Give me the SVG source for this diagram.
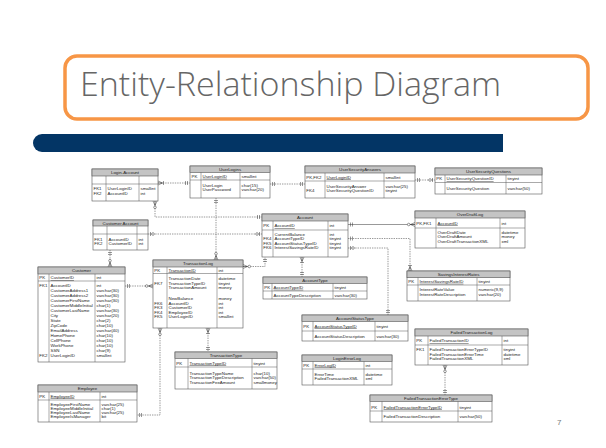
<svg xmlns="http://www.w3.org/2000/svg" width="606" height="448" viewBox="0 0 606 448">
<style>
.t{font-family:"Liberation Sans",Arial,sans-serif;font-size:4.4px;fill:#222}
.h{text-anchor:middle}
.u{text-decoration:underline}
.box{fill:#fff;stroke:#555;stroke-width:.6}
.hd{fill:#c4c4c4;stroke:#555;stroke-width:.6}
.ln{fill:none;stroke:#555;stroke-width:.5}
.c{fill:none;stroke:#444;stroke-width:.55;stroke-dasharray:1.4 1}
.s{fill:none;stroke:#444;stroke-width:.55}
.m{fill:none;stroke:#333;stroke-width:.5;stroke-dasharray:none}
.mc{fill:#fff;stroke:#333;stroke-width:.5;stroke-dasharray:none}
</style>
<defs>
<marker id="one" markerUnits="userSpaceOnUse" markerWidth="12" markerHeight="12" refX="0" refY="0" orient="auto-start-reverse" overflow="visible"><path class="m" d="M-2.5,-2V2M-4.5,-2V2"/></marker>
<marker id="many" markerUnits="userSpaceOnUse" markerWidth="12" markerHeight="12" refX="0" refY="0" orient="auto-start-reverse" overflow="visible"><path class="m" d="M-4.5,0L0,-2M-4.5,0H0M-4.5,0L0,2M-5.5,-2V2"/></marker>
<marker id="manyOpt" markerUnits="userSpaceOnUse" markerWidth="12" markerHeight="12" refX="0" refY="0" orient="auto-start-reverse" overflow="visible"><path class="m" d="M-4.5,0L0,-2M-4.5,0H0M-4.5,0L0,2"/><circle class="mc" cx="-6.3" cy="0" r="1.3"/></marker>
<marker id="oneOpt" markerUnits="userSpaceOnUse" markerWidth="12" markerHeight="12" refX="0" refY="0" orient="auto-start-reverse" overflow="visible"><path class="m" d="M-2.5,-2V2"/><circle class="mc" cx="-5" cy="0" r="1.3"/></marker>
</defs>
<rect width="606" height="448" fill="#fff"/>

<g id="title">
<rect x="65" y="56" width="523" height="63" rx="12" fill="#fff" stroke="#F79646" stroke-width="3.5"/>
<text x="80" y="96" font-family="Open Sans, Liberation Sans, Arial, sans-serif" font-weight="300" font-size="33" fill="#666" textLength="421" lengthAdjust="spacingAndGlyphs">Entity-Relationship Diagram</text>
</g>
<path id="bar" d="M42,134H503V152H42A9,9 0 0 1 42,134Z" fill="#033565"/>
<text id="page" x="557" y="425" font-family="Liberation Sans, Arial, sans-serif" font-size="8" fill="#777">7</text>

<g id="connectors">
<path class="c" d="M158,183H190" marker-start="url(#many)" marker-end="url(#one)"/>
<path class="c" d="M155,201V217H262" marker-start="url(#manyOpt)" marker-end="url(#one)"/>
<path class="c" d="M216,198V260" marker-start="url(#one)" marker-end="url(#manyOpt)"/>
<path class="c" d="M270,184H305" marker-start="url(#one)" marker-end="url(#one)"/>
<path class="c" d="M415,180H435" marker-start="url(#one)" marker-end="url(#oneOpt)"/>
<path class="c" d="M148,234H262" marker-start="url(#oneOpt)" marker-end="url(#oneOpt)"/>
<path class="c" d="M110,250V267" marker-start="url(#one)" marker-end="url(#manyOpt)"/>
<path class="c" d="M125,286H153" marker-start="url(#one)" marker-end="url(#manyOpt)"/>
<path class="c" d="M243,266.5H265V257" marker-start="url(#manyOpt)" marker-end="url(#one)"/>
<path class="c" d="M160,328V415H137" marker-start="url(#manyOpt)" marker-end="url(#one)"/>
<path class="c" d="M208,328V352" marker-start="url(#many)" marker-end="url(#one)"/>
<path class="c" d="M302,257V277" marker-start="url(#many)" marker-end="url(#one)"/>
<path class="s" d="M348,224.5H415" marker-start="url(#one)" marker-end="url(#manyOpt)"/>
<path class="c" d="M348,238.5H410V271" marker-start="url(#one)" marker-end="url(#many)"/>
<path class="c" d="M348,248H388V315" marker-start="url(#oneOpt)" marker-end="url(#one)"/>
<path class="c" d="M445,365V395" marker-start="url(#manyOpt)" marker-end="url(#one)"/>
</g>

<g id="login-account">
<rect class="box" x="92" y="169" width="66" height="32"/>
<rect class="hd" x="92" y="169" width="66" height="7"/>
<path class="ln" d="M92,184H158M106,176V201M139,176V201"/>
<text class="t h" x="125" y="174.2">Login-Account</text>
<text class="t" x="93.5" y="190"><tspan x="93.5">FK1</tspan><tspan x="93.5" dy="4.5">FK2</tspan></text>
<text class="t" x="107.5" y="190"><tspan x="107.5">UserLoginID</tspan><tspan x="107.5" dy="4.5">AccountID</tspan></text>
<text class="t" x="140.5" y="190"><tspan x="140.5">smallint</tspan><tspan x="140.5" dy="4.5">int</tspan></text>
</g>

<g id="userlogins">
<rect class="box" x="190" y="166" width="80" height="32"/>
<rect class="hd" x="190" y="166" width="80" height="6.5"/>
<path class="ln" d="M190,180H270M201,172.5V198M240,172.5V198"/>
<text class="t h" x="230" y="171">UserLogins</text>
<text class="t" x="191.5" y="177.8">PK</text>
<text class="t u" x="202.5" y="177.8">UserLoginID</text>
<text class="t" x="241.5" y="177.8">smallint</text>
<text class="t" x="202.5" y="186.5"><tspan x="202.5">UserLogin</tspan><tspan x="202.5" dy="4.5">UserPassword</tspan></text>
<text class="t" x="241.5" y="186.5"><tspan x="241.5">char(15)</tspan><tspan x="241.5" dy="4.5">varchar(20)</tspan></text>
</g>

<g id="usersecurityanswers">
<rect class="box" x="305" y="166" width="110" height="32"/>
<rect class="hd" x="305" y="166" width="110" height="7"/>
<path class="ln" d="M305,181H415M325,173V198M384,173V198"/>
<text class="t h" x="360" y="171.3">UserSecurityAnswers</text>
<text class="t" x="306.3" y="178.5">PK,FK2</text>
<text class="t u" x="326.5" y="178.5">UserLoginID</text>
<text class="t" x="385.5" y="178.5">smallint</text>
<text class="t" x="306.3" y="192">FK4</text>
<text class="t" x="326.5" y="187.5"><tspan x="326.5">UserSecurityAnswer</tspan><tspan x="326.5" dy="4.5">UserSecurityQuestionID</tspan></text>
<text class="t" x="385.5" y="187.5"><tspan x="385.5">varchar(25)</tspan><tspan x="385.5" dy="4.5">tinyint</tspan></text>
</g>

<g id="usersecurityquestions">
<rect class="box" x="435" y="168" width="107" height="26"/>
<rect class="hd" x="435" y="168" width="107" height="7"/>
<path class="ln" d="M435,182.5H542M445,175V194M506,175V194"/>
<text class="t h" x="488.5" y="173.2">UserSecurityQuestions</text>
<text class="t" x="436.3" y="180.3">PK</text>
<text class="t u" x="446.5" y="180.3">UserSecurityQuestionID</text>
<text class="t" x="507.5" y="180.3">tinyint</text>
<text class="t" x="446.5" y="189.8">UserSecurityQuestion</text>
<text class="t" x="507.5" y="189.8">varchar(50)</text>
</g>

<g id="customer-account">
<rect class="box" x="93" y="220" width="55" height="30"/>
<rect class="hd" x="93" y="220" width="55" height="6"/>
<path class="ln" d="M93,234H148M107,226V250M137,226V250"/>
<text class="t h" x="120.5" y="224.5">Customer Account</text>
<text class="t" x="94.3" y="240.5"><tspan x="94.3">FK1</tspan><tspan x="94.3" dy="4.5">FK2</tspan></text>
<text class="t" x="108.5" y="240.5"><tspan x="108.5">AccountID</tspan><tspan x="108.5" dy="4.5">CustomerID</tspan></text>
<text class="t" x="138.5" y="240.5"><tspan x="138.5">int</tspan><tspan x="138.5" dy="4.5">int</tspan></text>
</g>

<g id="account">
<rect class="box" x="262" y="214" width="86" height="43"/>
<rect class="hd" x="262" y="214" width="86" height="7"/>
<path class="ln" d="M262,230H348M273,221V257M328,221V257"/>
<text class="t h" x="305" y="219.2">Account</text>
<text class="t" x="263.3" y="227">PK</text>
<text class="t u" x="274.5" y="227">AccountID</text>
<text class="t" x="329.5" y="227">int</text>
<text class="t" x="263.3" y="240"><tspan x="263.3">FK4</tspan><tspan x="263.3" dy="4.5">FK5</tspan><tspan x="263.3" dy="4.5">FK6</tspan></text>
<text class="t" x="274.5" y="235.5"><tspan x="274.5">CurrentBalance</tspan><tspan x="274.5" dy="4.5">AccountTypeID</tspan><tspan x="274.5" dy="4.5">AccountStatusTypeID</tspan><tspan x="274.5" dy="4.5">InterestSavingsRateID</tspan></text>
<text class="t" x="329.5" y="235.5"><tspan x="329.5">int</tspan><tspan x="329.5" dy="4.5">tinyint</tspan><tspan x="329.5" dy="4.5">tinyint</tspan><tspan x="329.5" dy="4.5">tinyint</tspan></text>
</g>

<g id="overdraftlog">
<rect class="box" x="415" y="211" width="110" height="37"/>
<rect class="hd" x="415" y="211" width="110" height="7"/>
<path class="ln" d="M415,228H525M436,218V248M500,218V248"/>
<text class="t h" x="470" y="216.2">OverDraftLog</text>
<text class="t" x="416.3" y="224.5">PK,FK1</text>
<text class="t u" x="437.5" y="224.5">AccountID</text>
<text class="t" x="501.5" y="224.5">int</text>
<text class="t" x="437.5" y="233.5"><tspan x="437.5">OverDraftDate</tspan><tspan x="437.5" dy="4.5">OverDraftAmount</tspan><tspan x="437.5" dy="4.5">OverDraftTransactionXML</tspan></text>
<text class="t" x="501.5" y="233.5"><tspan x="501.5">datetime</tspan><tspan x="501.5" dy="4.5">money</tspan><tspan x="501.5" dy="4.5">xml</tspan></text>
</g>

<g id="customer">
<rect class="box" x="38" y="267" width="87" height="95"/>
<rect class="hd" x="38" y="267" width="87" height="7"/>
<path class="ln" d="M38,281H125M49,274V362M95,274V362"/>
<text class="t h" x="81.5" y="272.2">Customer</text>
<text class="t" x="39.3" y="279">PK</text>
<text class="t u" x="50.5" y="279">CustomerID</text>
<text class="t" x="96.5" y="279">int</text>
<text class="t" x="39.3" y="286.5">FK1</text>
<text class="t" x="39.3" y="356.5">FK2</text>
<text class="t" x="50.5" y="286.5"><tspan x="50.5">AccountID</tspan><tspan x="50.5" dy="5">CustomerAddress1</tspan><tspan x="50.5" dy="5">CustomerAddress2</tspan><tspan x="50.5" dy="5">CustomerFirstName</tspan><tspan x="50.5" dy="5">CustomerMiddleInitial</tspan><tspan x="50.5" dy="5">CustomerLastName</tspan><tspan x="50.5" dy="5">City</tspan><tspan x="50.5" dy="5">State</tspan><tspan x="50.5" dy="5">ZipCode</tspan><tspan x="50.5" dy="5">EmailAddress</tspan><tspan x="50.5" dy="5">HomePhone</tspan><tspan x="50.5" dy="5">CellPhone</tspan><tspan x="50.5" dy="5">WorkPhone</tspan><tspan x="50.5" dy="5">SSN</tspan><tspan x="50.5" dy="5">UserLoginID</tspan></text>
<text class="t" x="96.5" y="286.5"><tspan x="96.5">int</tspan><tspan x="96.5" dy="5">varchar(30)</tspan><tspan x="96.5" dy="5">varchar(30)</tspan><tspan x="96.5" dy="5">varchar(30)</tspan><tspan x="96.5" dy="5">char(1)</tspan><tspan x="96.5" dy="5">varchar(30)</tspan><tspan x="96.5" dy="5">varchar(20)</tspan><tspan x="96.5" dy="5">char(2)</tspan><tspan x="96.5" dy="5">char(10)</tspan><tspan x="96.5" dy="5">varchar(40)</tspan><tspan x="96.5" dy="5">char(10)</tspan><tspan x="96.5" dy="5">char(10)</tspan><tspan x="96.5" dy="5">char(10)</tspan><tspan x="96.5" dy="5">char(9)</tspan><tspan x="96.5" dy="5">smallint</tspan></text>
</g>

<g id="transactionlog">
<rect class="box" x="153" y="260" width="90" height="68"/>
<rect class="hd" x="153" y="260" width="90" height="7"/>
<path class="ln" d="M153,273.5H243M167,267V328M217,267V328"/>
<text class="t h" x="198" y="265.2">TransactionLog</text>
<text class="t" x="154.3" y="271.5">PK</text>
<text class="t u" x="168.5" y="271.5">TransactionID</text>
<text class="t" x="218.5" y="271.5">int</text>
<text class="t" x="154.3" y="284.5">FK7</text>
<text class="t" x="154.3" y="304.5"><tspan x="154.3">FK6</tspan><tspan x="154.3" dy="4.5">FK3</tspan><tspan x="154.3" dy="4.5">FK4</tspan><tspan x="154.3" dy="4.5">FK5</tspan></text>
<text class="t" x="168.5" y="280"><tspan x="168.5">TransactionDate</tspan><tspan x="168.5" dy="4.5">TransactionTypeID</tspan><tspan x="168.5" dy="4.5">TransactionAmount</tspan><tspan x="168.5" dy="11">NewBalance</tspan><tspan x="168.5" dy="4.5">AccountID</tspan><tspan x="168.5" dy="4.5">CustomerID</tspan><tspan x="168.5" dy="4.5">EmployeeID</tspan><tspan x="168.5" dy="4.5">UserLoginID</tspan></text>
<text class="t" x="218.5" y="280"><tspan x="218.5">datetime</tspan><tspan x="218.5" dy="4.5">tinyint</tspan><tspan x="218.5" dy="4.5">money</tspan><tspan x="218.5" dy="11">money</tspan><tspan x="218.5" dy="4.5">int</tspan><tspan x="218.5" dy="4.5">int</tspan><tspan x="218.5" dy="4.5">int</tspan><tspan x="218.5" dy="4.5">smallint</tspan></text>
</g>

<g id="accounttype">
<rect class="box" x="263" y="277" width="104" height="22"/>
<rect class="hd" x="263" y="277" width="104" height="6.5"/>
<path class="ln" d="M263,291H367M272,283.5V299M333,283.5V299"/>
<text class="t h" x="315" y="281.8">AccountType</text>
<text class="t" x="264.3" y="288.8">PK</text>
<text class="t u" x="273.5" y="288.8">AccountTypeID</text>
<text class="t" x="334.5" y="288.8">tinyint</text>
<text class="t" x="273.5" y="296.8">AccountTypeDescription</text>
<text class="t" x="334.5" y="296.8">varchar(30)</text>
</g>

<g id="savingsinterestrates">
<rect class="box" x="407" y="271" width="103" height="30"/>
<rect class="hd" x="407" y="271" width="103" height="6.7"/>
<path class="ln" d="M407,285H510M418,277.7V301M477,277.7V301"/>
<text class="t h" x="458.5" y="276">SavingsInterestRates</text>
<text class="t" x="408.3" y="282.8">PK</text>
<text class="t u" x="419.5" y="282.8">InterestSavingsRateID</text>
<text class="t" x="478.5" y="282.8">tinyint</text>
<text class="t" x="419.5" y="291.3"><tspan x="419.5">InterestRateValue</tspan><tspan x="419.5" dy="4.5">InterestRateDescription</tspan></text>
<text class="t" x="478.5" y="291.3"><tspan x="478.5">numeric(9,9)</tspan><tspan x="478.5" dy="4.5">varchar(20)</tspan></text>
</g>

<g id="accountstatustype">
<rect class="box" x="302" y="315" width="106" height="26"/>
<rect class="hd" x="302" y="315" width="106" height="6.5"/>
<path class="ln" d="M302,331H408M313,321.5V341M375,321.5V341"/>
<text class="t h" x="355" y="319.8">AccountStatusType</text>
<text class="t" x="303.3" y="327.5">PK</text>
<text class="t u" x="314.5" y="327.5">AccountStatusTypeID</text>
<text class="t" x="376.5" y="327.5">tinyint</text>
<text class="t" x="314.5" y="337.5">AccountStatusDescription</text>
<text class="t" x="376.5" y="337.5">varchar(30)</text>
</g>

<g id="failedtransactionlog">
<rect class="box" x="415" y="329" width="113" height="36"/>
<rect class="hd" x="415" y="329" width="113" height="7"/>
<path class="ln" d="M415,345H528M428,336V365M502,336V365"/>
<text class="t h" x="471.5" y="334">FailedTransactionLog</text>
<text class="t" x="416.3" y="342.3">PK</text>
<text class="t u" x="429.5" y="342.3">FailedTransactionID</text>
<text class="t" x="503.5" y="342.3">int</text>
<text class="t" x="416.3" y="351.3">FK1</text>
<text class="t" x="429.5" y="351.3"><tspan x="429.5">FailedTransactionErrorTypeID</tspan><tspan x="429.5" dy="4.5">FailedTransactionErrorTime</tspan><tspan x="429.5" dy="4.5">FailedTransactionXML</tspan></text>
<text class="t" x="503.5" y="351.3"><tspan x="503.5">tinyint</tspan><tspan x="503.5" dy="4.5">datetime</tspan><tspan x="503.5" dy="4.5">xml</tspan></text>
</g>

<g id="failedtransactionerrortype">
<rect class="box" x="370" y="395" width="122" height="27"/>
<rect class="hd" x="370" y="395" width="122" height="6.5"/>
<path class="ln" d="M370,411H492M382,401.5V422M458,401.5V422"/>
<text class="t h" x="431" y="399.8">FailedTransactionErrorType</text>
<text class="t" x="371.3" y="408.5">PK</text>
<text class="t u" x="383.5" y="408.5">FailedTransactionErrorTypeID</text>
<text class="t" x="459.5" y="408.5">tinyint</text>
<text class="t" x="383.5" y="418">FailedTransactionDescription</text>
<text class="t" x="459.5" y="418">varchar(50)</text>
</g>

<g id="transactiontype">
<rect class="box" x="175" y="352" width="102" height="37"/>
<rect class="hd" x="175" y="352" width="102" height="6.5"/>
<path class="ln" d="M175,367H277M188,358.5V389M252,358.5V389"/>
<text class="t h" x="226" y="356.8">TransactionType</text>
<text class="t" x="176.3" y="364.5">PK</text>
<text class="t u" x="189.5" y="364.5">TransactionTypeID</text>
<text class="t" x="253.5" y="364.5">tinyint</text>
<text class="t" x="189.5" y="374.5"><tspan x="189.5">TransactionTypeName</tspan><tspan x="189.5" dy="4.5">TransactionTypeDescription</tspan><tspan x="189.5" dy="4.5">TransactionFeeAmount</tspan></text>
<text class="t" x="253.5" y="374.5"><tspan x="253.5">char(10)</tspan><tspan x="253.5" dy="4.5">varchar(50)</tspan><tspan x="253.5" dy="4.5">smallmoney</tspan></text>
</g>

<g id="loginerrorlog">
<rect class="box" x="302" y="355" width="90" height="30"/>
<rect class="hd" x="302" y="355" width="90" height="6.5"/>
<path class="ln" d="M302,369H392M313,361.5V385M364,361.5V385"/>
<text class="t h" x="347" y="359.8">LoginErrorLog</text>
<text class="t" x="303.3" y="366.5">PK</text>
<text class="t u" x="314.5" y="366.5">ErrorLogID</text>
<text class="t" x="365.5" y="366.5">int</text>
<text class="t" x="314.5" y="375.5"><tspan x="314.5">ErrorTime</tspan><tspan x="314.5" dy="4.5">FailedTransactionXML</tspan></text>
<text class="t" x="365.5" y="375.5"><tspan x="365.5">datetime</tspan><tspan x="365.5" dy="4.5">xml</tspan></text>
</g>

<g id="employee">
<rect class="box" x="38" y="385" width="99" height="37"/>
<rect class="hd" x="38" y="385" width="99" height="7"/>
<path class="ln" d="M38,400H137M49,392V422M100,392V422"/>
<text class="t h" x="87.5" y="390.2">Employee</text>
<text class="t" x="39.3" y="397.5">PK</text>
<text class="t u" x="50.5" y="397.5">EmployeeID</text>
<text class="t" x="101.5" y="397.5">int</text>
<text class="t" x="50.5" y="405.5"><tspan x="50.5">EmployeeFirstName</tspan><tspan x="50.5" dy="4">EmployeeMiddleInitial</tspan><tspan x="50.5" dy="4">EmployeeLastName</tspan><tspan x="50.5" dy="4">EmployeeIsManager</tspan></text>
<text class="t" x="101.5" y="405.5"><tspan x="101.5">varchar(25)</tspan><tspan x="101.5" dy="4">char(1)</tspan><tspan x="101.5" dy="4">varchar(25)</tspan><tspan x="101.5" dy="4">bit</tspan></text>
</g>
</svg>
